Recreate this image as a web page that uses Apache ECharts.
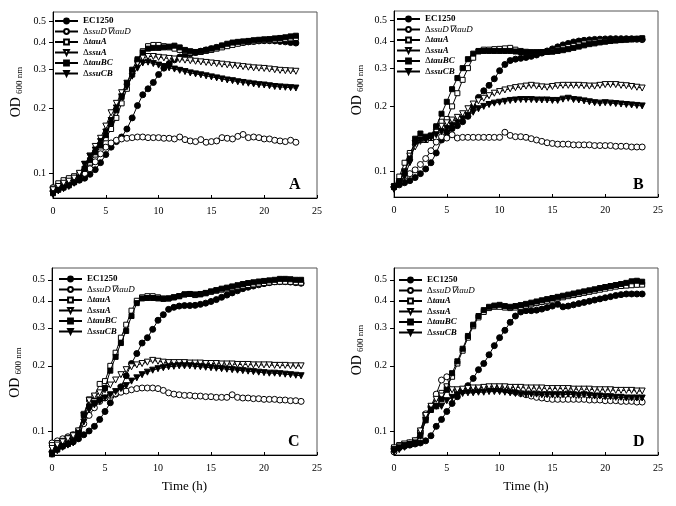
<!DOCTYPE html>
<html><head><meta charset="utf-8">
<script src="https://cdn.jsdelivr.net/npm/echarts@6/dist/echarts.min.js"></script>
<style>html,body{margin:0;padding:0;background:#fff}#c{width:676px;height:506px}</style>
</head><body><div id="c"></div>
<script>
// ---- data ----
const seriesNames = ['EC1250','ΔssuD∇tauD','ΔtauA','ΔssuA','ΔtauBC','ΔssuCB'];
const xTicks = [0,5,10,15,20,25];
const yTicks = [0.1,0.2,0.3,0.4,0.5];
const panelLetters = ['A','B','C','D'];
const timeA = [0,0.5,1,1.5,2,2.5,3,3.5,4,4.5,5,5.5,6,6.5,7,7.5,8,8.5,9,9.5,10,10.5,11,11.5,12,12.5,13,13.5,14,14.5,15,15.5,16,16.5,17,17.5,18,18.5,19,19.5,20,20.5,21,21.5,22,22.5,23];
const timeB = [0,0.5,1,1.5,2,2.5,3,3.5,4,4.5,5,5.5,6,6.5,7,7.5,8,8.5,9,9.5,10,10.5,11,11.5,12,12.5,13,13.5,14,14.5,15,15.5,16,16.5,17,17.5,18,18.5,19,19.5,20,20.5,21,21.5,22,22.5,23,23.5];
const timeC = timeB;
const timeD = timeB;

// Panel A
const EC1250_A = [0.083,0.085,0.087,0.089,0.091,0.093,0.095,0.099,0.104,0.112, 0.122,0.132,0.14,0.147,0.16,0.18,0.205,0.23,0.245,0.262, 0.285,0.305,0.32,0.333,0.343,0.35,0.355,0.36,0.365,0.37, 0.375,0.38,0.385,0.39,0.395,0.398,0.4,0.403,0.405,0.407, 0.408,0.408,0.407,0.405,0.403,0.4,0.398];
const ssuDtauD_A = [0.086,0.088,0.091,0.093,0.095,0.097,0.1,0.105,0.113,0.123, 0.132,0.138,0.142,0.144,0.145,0.146,0.147,0.147,0.146,0.146, 0.146,0.145,0.145,0.144,0.147,0.143,0.141,0.14,0.143,0.139, 0.14,0.141,0.146,0.145,0.144,0.148,0.151,0.146,0.147,0.146, 0.144,0.144,0.142,0.141,0.14,0.142,0.139];
const tauA_A = [0.085,0.09,0.093,0.095,0.097,0.1,0.105,0.112,0.122,0.133, 0.145,0.16,0.18,0.21,0.245,0.285,0.33,0.365,0.385,0.39, 0.39,0.385,0.38,0.375,0.37,0.365,0.36,0.36,0.362,0.366, 0.37,0.375,0.38,0.385,0.39,0.395,0.4,0.403,0.405,0.408, 0.41,0.41,0.412,0.413,0.415,0.418,0.42];
const ssuA_A = [0.084,0.087,0.09,0.092,0.095,0.1,0.11,0.12,0.133,0.145, 0.165,0.19,0.21,0.235,0.26,0.29,0.32,0.34,0.345,0.345, 0.342,0.34,0.338,0.336,0.334,0.332,0.33,0.328,0.326,0.324, 0.322,0.32,0.318,0.316,0.314,0.312,0.31,0.308,0.306,0.305, 0.304,0.302,0.3,0.298,0.297,0.296,0.295];
const tauBC_A = [0.081,0.084,0.086,0.088,0.091,0.095,0.105,0.115,0.125,0.135, 0.15,0.17,0.195,0.225,0.26,0.3,0.335,0.36,0.375,0.378, 0.378,0.38,0.383,0.387,0.38,0.37,0.365,0.362,0.365,0.37, 0.375,0.38,0.388,0.395,0.4,0.403,0.405,0.407,0.41,0.412, 0.414,0.415,0.418,0.42,0.423,0.427,0.43];
const ssuCB_A = [0.08,0.083,0.085,0.087,0.09,0.095,0.11,0.12,0.128,0.14, 0.155,0.175,0.2,0.225,0.25,0.28,0.305,0.322,0.325,0.32, 0.315,0.31,0.306,0.302,0.298,0.294,0.29,0.287,0.284,0.281, 0.278,0.275,0.272,0.269,0.267,0.264,0.262,0.26,0.258,0.256, 0.255,0.253,0.251,0.25,0.249,0.248,0.247];

// Panel B
const EC1250_B = [0.085,0.087,0.089,0.091,0.094,0.098,0.103,0.11,0.122,0.14, 0.152,0.158,0.163,0.17,0.18,0.2,0.22,0.236,0.25,0.268, 0.292,0.312,0.325,0.33,0.333,0.336,0.34,0.345,0.352,0.36, 0.368,0.376,0.384,0.39,0.396,0.4,0.403,0.405,0.407,0.408, 0.409,0.41,0.41,0.41,0.41,0.41,0.408,0.406];
const ssuDtauD_B = [0.085,0.09,0.095,0.098,0.102,0.108,0.115,0.125,0.137,0.145, 0.143,0.148,0.143,0.144,0.144,0.144,0.144,0.144,0.144,0.144, 0.144,0.152,0.147,0.145,0.145,0.144,0.142,0.14,0.138,0.136, 0.135,0.134,0.134,0.134,0.133,0.133,0.133,0.133,0.132,0.132, 0.132,0.132,0.131,0.131,0.131,0.13,0.13,0.13];
const tauA_B = [0.086,0.095,0.11,0.122,0.135,0.14,0.14,0.143,0.16,0.17, 0.175,0.2,0.23,0.265,0.3,0.335,0.36,0.365,0.365,0.367, 0.368,0.37,0.372,0.365,0.36,0.357,0.355,0.355,0.356,0.357, 0.36,0.365,0.37,0.375,0.38,0.385,0.39,0.393,0.396,0.399, 0.4,0.402,0.404,0.405,0.406,0.407,0.408,0.41];
const ssuA_B = [0.085,0.09,0.1,0.118,0.13,0.138,0.142,0.145,0.152,0.162, 0.168,0.173,0.178,0.185,0.195,0.205,0.212,0.218,0.224,0.23, 0.234,0.238,0.241,0.244,0.246,0.248,0.25,0.248,0.246,0.245, 0.247,0.249,0.25,0.25,0.25,0.25,0.249,0.248,0.248,0.25, 0.252,0.252,0.252,0.25,0.249,0.247,0.245,0.243];
const tauBC_B = [0.085,0.09,0.1,0.115,0.142,0.15,0.145,0.147,0.162,0.185, 0.21,0.24,0.27,0.3,0.33,0.35,0.358,0.36,0.36,0.36, 0.36,0.36,0.36,0.358,0.356,0.355,0.355,0.355,0.355,0.356, 0.357,0.36,0.363,0.367,0.372,0.377,0.382,0.387,0.39,0.394, 0.397,0.4,0.402,0.404,0.406,0.408,0.41,0.412];
const ssuCB_B = [0.083,0.088,0.095,0.11,0.135,0.14,0.14,0.143,0.148,0.153, 0.158,0.163,0.168,0.175,0.182,0.188,0.195,0.2,0.204,0.207, 0.209,0.211,0.213,0.214,0.215,0.215,0.215,0.214,0.214,0.214, 0.213,0.213,0.216,0.218,0.215,0.214,0.212,0.21,0.208,0.207, 0.208,0.207,0.206,0.205,0.204,0.203,0.202,0.201];

// Panel C
const EC1250_C = [0.08,0.083,0.085,0.087,0.089,0.092,0.096,0.1,0.105,0.113, 0.123,0.135,0.148,0.16,0.18,0.205,0.228,0.255,0.27,0.295, 0.325,0.345,0.365,0.373,0.378,0.38,0.38,0.381,0.385,0.39, 0.397,0.405,0.415,0.425,0.435,0.445,0.455,0.462,0.468,0.474, 0.48,0.485,0.49,0.49,0.49,0.488,0.485,0.482];
const ssuDtauD_C = [0.088,0.09,0.092,0.094,0.096,0.1,0.108,0.118,0.128,0.137, 0.142,0.146,0.149,0.151,0.153,0.155,0.157,0.158,0.158,0.158, 0.157,0.154,0.15,0.148,0.147,0.146,0.146,0.145,0.145,0.144, 0.144,0.143,0.143,0.143,0.147,0.143,0.142,0.142,0.141,0.141, 0.14,0.14,0.14,0.139,0.139,0.138,0.138,0.137];
const tauA_C = [0.086,0.088,0.09,0.093,0.096,0.1,0.12,0.14,0.145,0.165, 0.17,0.2,0.23,0.27,0.31,0.36,0.4,0.415,0.42,0.42, 0.415,0.41,0.41,0.415,0.42,0.428,0.43,0.425,0.428,0.433, 0.44,0.445,0.45,0.455,0.46,0.465,0.47,0.473,0.476,0.48, 0.483,0.486,0.488,0.49,0.49,0.489,0.487,0.485];
const ssuA_C = [0.083,0.086,0.089,0.092,0.095,0.1,0.118,0.138,0.145,0.15, 0.155,0.163,0.172,0.182,0.192,0.198,0.202,0.205,0.208,0.212, 0.21,0.208,0.207,0.207,0.207,0.207,0.206,0.206,0.206,0.205, 0.205,0.205,0.204,0.204,0.204,0.203,0.203,0.203,0.202,0.202, 0.202,0.202,0.201,0.201,0.201,0.2,0.2,0.2];
const tauBC_C = [0.078,0.082,0.085,0.087,0.09,0.098,0.118,0.13,0.135,0.14, 0.158,0.19,0.22,0.255,0.29,0.34,0.39,0.41,0.412,0.412, 0.41,0.408,0.41,0.415,0.42,0.428,0.43,0.428,0.43,0.435, 0.442,0.448,0.455,0.46,0.466,0.472,0.478,0.483,0.487,0.491, 0.494,0.497,0.5,0.505,0.505,0.503,0.5,0.5];
const ssuCB_C = [0.078,0.081,0.084,0.086,0.088,0.092,0.11,0.125,0.132,0.137, 0.142,0.147,0.152,0.157,0.162,0.17,0.176,0.182,0.187,0.191, 0.194,0.196,0.198,0.199,0.2,0.2,0.2,0.199,0.198,0.197, 0.196,0.195,0.194,0.193,0.192,0.191,0.19,0.189,0.188,0.187, 0.186,0.185,0.185,0.184,0.183,0.182,0.181,0.18];

// Panel D
const EC1250_D = [0.083,0.084,0.085,0.086,0.087,0.088,0.09,0.095,0.105,0.113, 0.123,0.134,0.144,0.153,0.162,0.175,0.192,0.205,0.225,0.248, 0.27,0.292,0.318,0.34,0.355,0.36,0.36,0.362,0.366,0.372, 0.378,0.385,0.375,0.378,0.383,0.388,0.393,0.398,0.403,0.408, 0.413,0.418,0.423,0.427,0.43,0.43,0.43,0.43];
const ssuDtauD_D = [0.08,0.084,0.086,0.088,0.09,0.1,0.12,0.13,0.148,0.172, 0.178,0.15,0.152,0.153,0.154,0.155,0.156,0.157,0.157,0.157, 0.156,0.155,0.153,0.151,0.149,0.147,0.145,0.143,0.142,0.141, 0.14,0.14,0.14,0.14,0.14,0.14,0.14,0.139,0.139,0.139, 0.138,0.138,0.138,0.137,0.137,0.137,0.136,0.136];
const tauA_D = [0.084,0.086,0.087,0.088,0.09,0.098,0.115,0.128,0.135,0.15, 0.16,0.178,0.205,0.235,0.27,0.305,0.335,0.355,0.37,0.375, 0.375,0.372,0.37,0.372,0.375,0.38,0.385,0.39,0.395,0.4, 0.405,0.41,0.415,0.42,0.425,0.43,0.435,0.44,0.445,0.45, 0.455,0.46,0.465,0.468,0.47,0.472,0.474,0.475];
const ssuA_D = [0.082,0.085,0.087,0.088,0.09,0.1,0.118,0.13,0.14,0.145, 0.16,0.155,0.155,0.156,0.157,0.158,0.158,0.159,0.16,0.16, 0.16,0.16,0.159,0.159,0.159,0.158,0.158,0.158,0.158,0.157, 0.157,0.157,0.157,0.157,0.156,0.156,0.156,0.156,0.155,0.155, 0.155,0.155,0.154,0.154,0.154,0.154,0.153,0.153];
const tauBC_D = [0.082,0.084,0.086,0.087,0.088,0.095,0.112,0.125,0.13,0.14, 0.155,0.185,0.21,0.24,0.275,0.31,0.34,0.362,0.375,0.38, 0.383,0.378,0.375,0.378,0.382,0.387,0.392,0.397,0.402,0.407, 0.412,0.417,0.422,0.427,0.432,0.437,0.442,0.447,0.452,0.458, 0.463,0.468,0.473,0.478,0.484,0.492,0.495,0.49];
const ssuCB_D = [0.08,0.082,0.084,0.086,0.088,0.095,0.112,0.125,0.13,0.13, 0.138,0.143,0.147,0.149,0.15,0.15,0.151,0.151,0.152,0.152, 0.152,0.151,0.15,0.149,0.148,0.148,0.148,0.148,0.147,0.147, 0.147,0.147,0.147,0.148,0.147,0.146,0.147,0.146,0.145,0.145, 0.144,0.144,0.143,0.143,0.142,0.142,0.142,0.142];

// ---- layout / style ----
const FONT = "'Liberation Serif','Times New Roman',serif";
const panels = [
  {time: timeA, data:[EC1250_A,ssuDtauD_A,tauA_A,ssuA_A,tauBC_A,ssuCB_A],
   grid:{left:53,top:12,width:264,height:186}, ymin:0.077, ymax:0.553,
   legend:{left:54,top:16}, letter:{left:289,top:177}, namePad:[0,0,0,26], xname:''},
  {time: timeB, data:[EC1250_B,ssuDtauD_B,tauA_B,ssuA_B,tauBC_B,ssuCB_B],
   grid:{left:394,top:11,width:264,height:186}, ymin:0.0765, ymax:0.55,
   legend:{left:396,top:14}, letter:{left:633,top:177}, namePad:[0,0,0,28], xname:''},
  {time: timeC, data:[EC1250_C,ssuDtauD_C,tauA_C,ssuA_C,tauBC_C,ssuCB_C],
   grid:{left:52,top:268,width:265,height:187}, ymin:0.0774, ymax:0.567,
   legend:{left:58,top:274}, letter:{left:288,top:434}, namePad:[0,22,0,0], xname:'Time (h)'},
  {time: timeD, data:[EC1250_D,ssuDtauD_D,tauA_D,ssuA_D,tauBC_D,ssuCB_D],
   grid:{left:394,top:268,width:264,height:187}, ymin:0.0774, ymax:0.567,
   legend:{left:398,top:275}, letter:{left:633,top:434}, namePad:[0,0,0,23], xname:'Time (h)'}
];
const markerStyles = [
  {symbol:'circle', size:6, fill:'#000', rot:0},
  {symbol:'circle', size:6, fill:'#fff', rot:0},
  {symbol:'rect', size:5, fill:'#fff', rot:0},
  {symbol:'triangle', size:6, fill:'#fff', rot:180},
  {symbol:'rect', size:5, fill:'#000', rot:0},
  {symbol:'triangle', size:6, fill:'#000', rot:180}
];

const option = {animation:false, backgroundColor:'#fff', grid:[], xAxis:[], yAxis:[], series:[], legend:[], title:[]};
panels.forEach((p, pi) => {
  option.grid.push(Object.assign({show:true, borderColor:'#555', borderWidth:1, backgroundColor:'transparent'}, p.grid));
  option.xAxis.push({
    type:'value', gridIndex:pi, min:xTicks[0], max:xTicks[xTicks.length-1], interval:5,
    axisLine:{show:true, onZero:false, lineStyle:{color:'#000', width:1}},
    axisTick:{show:true, inside:true, length:3, lineStyle:{color:'#000'}},
    axisLabel:{color:'#000', fontFamily:FONT, fontSize:10, margin:8},
    splitLine:{show:false},
    name:p.xname, nameLocation:'middle', nameGap:25,
    nameTextStyle:{color:'#000', fontFamily:FONT, fontSize:13}
  });
  option.yAxis.push({
    type:'log', logBase:10, gridIndex:pi, min:p.ymin, max:p.ymax,
    axisLine:{show:true, lineStyle:{color:'#000', width:1}},
    axisTick:{show:true, inside:false, length:4, customValues:yTicks, lineStyle:{color:'#000'}},
    axisLabel:{color:'#000', fontFamily:FONT, fontSize:10, margin:7, customValues:yTicks,
      formatter:(v)=>Number(v).toFixed(1)},
    minorTick:{show:false}, splitLine:{show:false}, minorSplitLine:{show:false},
    name:'{a|OD}{b|600 nm}', nameLocation:'middle', nameGap:29, nameRotate:90,
    nameTextStyle:{color:'#000', fontFamily:FONT, padding:p.namePad,
      rich:{a:{fontSize:14, fontFamily:FONT, color:'#000'},
            b:{fontSize:9, fontFamily:FONT, color:'#000', padding:[7,0,0,3]}}}
  });
  seriesNames.forEach((nm, si) => {
    const m = markerStyles[si];
    option.series.push({
      type:'line', name:nm, xAxisIndex:pi, yAxisIndex:pi,
      data:p.data[si].map((v,i)=>[p.time[i], v]),
      symbol:m.symbol, symbolSize:m.size, symbolRotate:m.rot, showSymbol:true, showAllSymbol:true,
      lineStyle:{color:'#000', width:1},
      itemStyle:{color:m.fill, borderColor:'#000', borderWidth:1},
      emphasis:{disabled:true}, z:2+si
    });
  });
  option.legend.push({
    data:seriesNames, orient:'vertical', left:p.legend.left, top:p.legend.top,
    itemWidth:23, itemHeight:6, itemGap:0.5, padding:0, selectedMode:false,
    textStyle:{fontFamily:FONT, fontSize:9, lineHeight:10, color:'#000',
      rich:{b:{fontFamily:FONT,fontSize:9,fontWeight:'bold',color:'#000'},
            d:{fontFamily:FONT,fontSize:9,color:'#000'},
            i:{fontFamily:FONT,fontSize:9,fontStyle:'italic',fontWeight:'bold',color:'#000'},
            j:{fontFamily:FONT,fontSize:9,fontStyle:'italic',color:'#000'}}},
    formatter:(name)=> name==='EC1250' ? '{b|EC1250}' :
      (name==='ΔssuD∇tauD' ? '{d|Δ}{j|'+name.slice(1)+'}' : '{d|Δ}{i|'+name.slice(1)+'}')
  });
  option.title.push({text:panelLetters[pi], left:p.letter.left, top:p.letter.top, padding:0,
    textStyle:{fontFamily:FONT, fontSize:16, fontWeight:'bold', color:'#000'}});
});
const chart = echarts.init(document.getElementById('c'), null, {renderer:'canvas'});
chart.setOption(option);
</script>
</body></html>
